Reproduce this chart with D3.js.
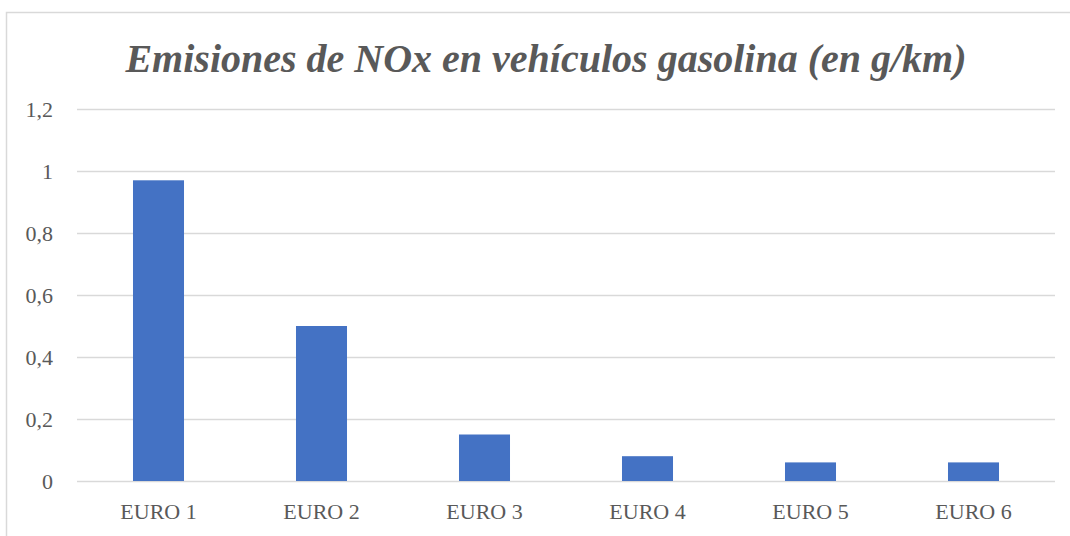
<!DOCTYPE html>
<html><head><meta charset="utf-8">
<script src="https://cdn.jsdelivr.net/npm/d3@7"></script>
<style>body{margin:0;background:#fff;} svg{display:block;}</style>
</head><body>
<script>
const categories = ["EURO 1","EURO 2","EURO 3","EURO 4","EURO 5","EURO 6"];
const values = [0.97, 0.5, 0.15, 0.08, 0.06, 0.06];
const yTicks = [0, 0.2, 0.4, 0.6, 0.8, 1, 1.2];
const title = "Emisiones de NOx en vehículos gasolina (en g/km)";

(function(){
const W = 1070, H = 536;
const svg = d3.select("body").append("svg").attr("width", W).attr("height", H);
svg.append("rect").attr("x", 6.5).attr("y", 12.5).attr("width", 1080).attr("height", 540)
  .attr("fill", "#fff").attr("stroke", "#d9d9d9").attr("stroke-width", 1.5);

const mL = 77, mR = 1055, mT = 109, mB = 481;
const x = d3.scaleBand().domain(categories).range([mL, mR]).paddingInner(0.687).paddingOuter(0.3435);
const y = d3.scaleLinear().domain([0, 1.2]).range([mB, mT]);
const fmt = d => String(d).replace(".", ",");

const yAxis = svg.append("g").attr("transform", `translate(${mL},0)`)
  .call(d3.axisLeft(y).tickValues(yTicks).tickSize(-(mR-mL)).tickFormat(fmt).tickPadding(24));
yAxis.select(".domain").remove();
yAxis.selectAll("line").attr("stroke", "#d9d9d9").attr("stroke-width", 1.5);
yAxis.selectAll("text").attr("fill", "#595959").style("font-family", "'Liberation Serif', serif").style("font-size", "22px");

svg.append("g").selectAll("rect").data(values).join("rect")
  .attr("x", (d,i) => x(categories[i])).attr("width", x.bandwidth())
  .attr("y", d => y(d)).attr("height", d => y(0) - y(d))
  .attr("fill", "#4472c4");

const xAxis = svg.append("g").attr("transform", `translate(0,${mB})`)
  .call(d3.axisBottom(x).tickSize(0).tickPadding(22));
xAxis.select(".domain").remove();
xAxis.selectAll("text").attr("fill", "#595959").style("font-family", "'Liberation Serif', serif").style("font-size", "22px");

svg.append("text").attr("x", 546).attr("y", 72).attr("text-anchor", "middle")
  .attr("fill", "#595959").style("font-family", "'Liberation Serif', serif")
  .style("font-style", "italic").style("font-weight", "bold").style("font-size", "40px")
  .text(title);
})();
</script>
</body></html>
